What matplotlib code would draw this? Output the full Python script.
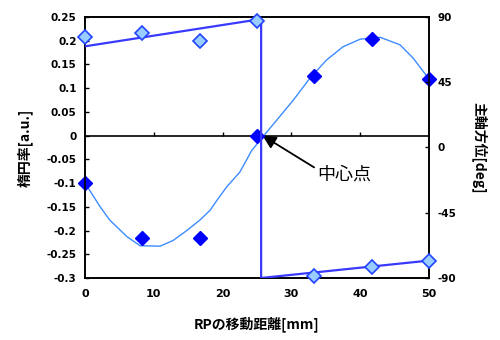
import numpy as np
import matplotlib.pyplot as plt

plt.rcParams['font.family'] = ['Noto Sans CJK JP', 'DejaVu Sans']

# 測定点
pos = [0, 8.33, 16.67, 25, 33.33, 41.67, 50]
ellip = [-0.099, -0.215, -0.215, 0.0, 0.126, 0.203, 0.119]
azim = [76.2, 79.2, 73.7, 87.4, -88.4, -82.6, -78.3]

# 楕円率のフィット曲線
curve_x = [0, 2.2, 3.6, 6.1, 8.0, 10.9, 12.8, 14.8, 16.7, 18.2, 19.1, 20.6, 22.5,
           23.5, 24.2, 26.0, 28.3, 30.3, 32.7, 35.1, 37.5, 40.0, 42.9, 45.8, 47.7, 49.9]
curve_y = [-0.100, -0.150, -0.178, -0.213, -0.232, -0.233, -0.221, -0.200, -0.178,
           -0.157, -0.138, -0.108, -0.077, -0.051, -0.032, 0.0, 0.040, 0.075, 0.121,
           0.159, 0.187, 0.203, 0.207, 0.191, 0.163, 0.121]

# 主軸方位のフィット線
fit_x = [0, 25.6, 25.6, 50]
fit_az = [69.7, 88.5, -90, -78]

xticks = [0, 10, 20, 30, 40, 50]
yticks = [0.25, 0.2, 0.15, 0.1, 0.05, 0, -0.05, -0.1, -0.15, -0.2, -0.25, -0.3]
ylabels = ['0.25', '0.2', '0.15', '0.1', '0.05', '0', '-0.05', '-0.1', '-0.15', '-0.2', '-0.25', '-0.3']
y2ticks = [90, 45, 0, -45, -90]

fig = plt.figure(figsize=(5, 3.4), dpi=100)
ax = fig.add_axes([0.17, 0.1824, 0.688, 0.768])
ax2 = ax.twinx()

ax.plot(curve_x, curve_y, color='#3d8cff', lw=1.0, zorder=2)
ax.plot(pos, ellip, 'D', color='#0000ff', ms=7, ls='none', zorder=5, clip_on=False)

ax2.plot(fit_x, fit_az, color='#3a3aff', lw=1.6, zorder=3)
ax2.plot(pos, azim, 'D', mfc='#99ccff', mec='#2244ff', mew=1.2, ms=7, ls='none',
         zorder=5, clip_on=False)

ax.set_xlim(0, 50)
ax.set_ylim(-0.3, 0.25)
ax2.set_ylim(-90, 90)

ax.axhline(0, color='black', lw=1.2, zorder=1)
ax.vlines(xticks[1:-1], 0, 0.007, color='black', lw=1.0)

ax.set_xticks(xticks)
ax.set_xticklabels([str(t) for t in xticks], fontsize=8, fontweight='bold', family='DejaVu Sans')
ax.tick_params(axis='x', length=0, pad=8)
ax.set_yticks(yticks)
ax.set_yticklabels(ylabels, fontsize=7.5, fontweight='bold', family='DejaVu Sans')
ax.tick_params(axis='y', direction='in', length=3, width=1, pad=6)
ax2.set_yticks(y2ticks)
ax2.set_yticklabels([str(t) for t in y2ticks], fontsize=7.5, fontweight='bold', family='DejaVu Sans')
ax2.tick_params(axis='y', direction='in', length=3, width=1, pad=6)

for a in (ax, ax2):
    for s in a.spines.values():
        s.set_linewidth(1.2)

ax.set_xlabel('RPの移動距離[mm]', fontsize=10, fontweight='bold', labelpad=12)
ax.set_ylabel('楕円率[a.u.]', fontsize=10, fontweight='bold', labelpad=10)
ax2.set_ylabel('主軸方位[deg]', fontsize=10, fontweight='bold', rotation=-90, labelpad=22)

ax.annotate('中心点', xy=(25.8, 0), xytext=(33.7, -0.082), fontsize=13,
            ha='left', va='center',
            arrowprops=dict(arrowstyle='-|>', color='black', lw=1.3, mutation_scale=20,
                            shrinkA=0, shrinkB=0, relpos=(0, 0.8)))

fig.savefig('out.png', dpi=100)
